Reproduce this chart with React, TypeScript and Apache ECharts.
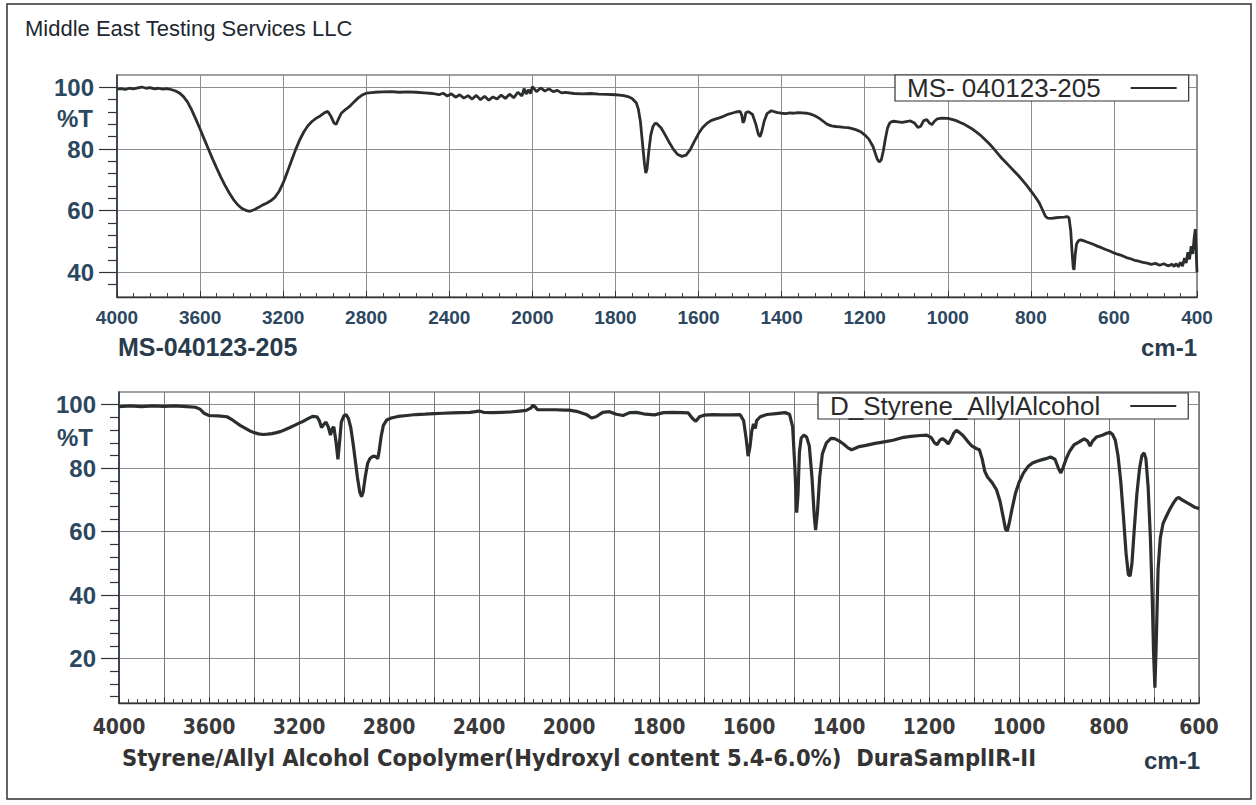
import React, { useEffect, useRef } from "react";
import * as echarts from "echarts";

// ---------- texts ----------
const pageTitle = "Middle East Testing Services LLC";
const topSeriesName = "MS- 040123-205";
const topCaption = "MS-040123-205";
const bottomSeriesName = "D_Styrene_AllylAlcohol";
const bottomCaption = "Styrene/Allyl Alcohol Copolymer(Hydroxyl content 5.4-6.0%)  DuraSamplIR-II";
const unitLabel = "cm-1";
const yName = "%T";

// ---------- tick values ----------
const yMajorTicks = [20, 40, 60, 80, 100];
const topYMinorTicks = [36, 44, 48, 52, 56, 64, 68, 72, 76, 84, 88, 92, 96];
const bottomYMinorTicks = [8, 12, 16, 24, 28, 32, 36, 44, 48, 52, 56, 64, 68, 72, 76, 84, 88, 92, 96];

// ---------- top spectrum (wavenumber cm-1, %T) ----------
const topWavenumbers = [
  4000, 3980, 3960, 3940, 3920, 3900, 3880, 3860, 3840, 3820, 3800, 3780, 3760, 3740, 3720, 3700, 3680, 3660, 3640, 3620,
  3600, 3580, 3560, 3540, 3520, 3500, 3480, 3460, 3440, 3420, 3400, 3380, 3360, 3340, 3320, 3300, 3280, 3260, 3240, 3220,
  3200, 3180, 3160, 3140, 3120, 3100, 3080, 3060, 3040, 3020, 3000, 2985, 2970, 2955, 2945, 2935, 2920, 2900, 2880, 2860,
  2840, 2820, 2800, 2760, 2720, 2680, 2640, 2600, 2560, 2520, 2480, 2450, 2430, 2410, 2390, 2370, 2350, 2330, 2310, 2290,
  2270, 2250, 2230, 2210, 2190, 2170, 2150, 2130, 2110, 2090, 2070, 2050, 2040, 2030, 2020, 2010, 2000, 1990, 1980, 1970,
  1960, 1950, 1940, 1930, 1920, 1900, 1880, 1860, 1840, 1820, 1800, 1790, 1780, 1770, 1760, 1750, 1745, 1740, 1735, 1730,
  1727, 1724, 1720, 1715, 1710, 1705, 1700, 1690, 1680, 1670, 1660, 1650, 1640, 1630, 1620, 1610, 1600, 1590, 1580, 1570,
  1560, 1550, 1540, 1530, 1520, 1510, 1500, 1496, 1493, 1490, 1486, 1480, 1470, 1462, 1456, 1452, 1448, 1442, 1435, 1425,
  1410, 1400, 1390, 1380, 1370, 1360, 1350, 1340, 1330, 1320, 1310, 1300, 1290, 1280, 1270, 1260, 1250, 1240, 1230, 1220,
  1210, 1200, 1190, 1180, 1175, 1170, 1165, 1160, 1155, 1150, 1145, 1140, 1135, 1130, 1120, 1110, 1100, 1090, 1080, 1072,
  1065, 1058, 1050, 1044, 1038, 1032, 1025, 1015, 1000, 990, 980, 970, 960, 950, 940, 930, 920, 910, 900, 890,
  880, 870, 860, 850, 840, 830, 820, 810, 800, 790, 780, 772, 765, 760, 750, 740, 730, 720, 712, 708,
  704, 701, 698, 696, 693, 690, 685, 680, 670, 660, 650, 640, 630, 620, 610, 600, 590, 580, 570, 560,
  550, 540, 530, 520, 510, 500, 490, 480, 470, 460, 455, 450, 445, 440, 435, 430, 426, 422, 418, 414,
  410, 407, 404, 402, 400,
];
const topTransmittance = [
  99.4, 99.6, 99.3, 99.7, 99.5, 99.8, 100.1, 99.7, 99.9, 99.5, 99.7, 99.4, 99.6, 99.3, 98.9, 98.2, 97.0, 95.2, 92.6, 89.6,
  86.5, 83.2, 80.0, 76.8, 73.8, 70.9, 68.2, 65.8, 63.7, 62.0, 60.8, 60.1, 59.8, 60.3, 61.0, 61.8, 62.4, 63.2, 64.3, 66.2,
  69.0, 72.5, 76.2, 79.8, 83.0, 85.6, 87.6, 89.0, 90.0, 90.8, 91.8, 92.2, 90.6, 88.4, 88.0, 89.5, 91.6, 92.8, 93.8, 95.2,
  96.5, 97.5, 98.1, 98.4, 98.5, 98.6, 98.4, 98.5, 98.4, 98.2, 98.0, 97.6, 98.1, 97.2, 97.9, 96.8, 97.6, 96.5, 97.3, 96.2,
  97.4, 96.0, 97.1, 95.8, 96.9, 96.2, 97.5, 96.4, 97.8, 96.6, 98.4, 97.2, 99.6, 97.8, 99.2, 98.0, 100.2, 98.6, 99.8, 98.8,
  99.5, 98.6, 99.0, 98.2, 98.4, 98.0, 97.9, 98.0, 97.8, 97.7, 97.6, 97.5, 97.3, 97.0, 96.4, 95.0, 93.0, 89.0, 82.0, 75.0,
  72.2, 73.5, 79.0, 84.5, 87.2, 88.3, 88.2, 86.8, 84.5, 82.0, 79.8, 78.2, 77.6, 78.0, 79.8, 82.5, 85.0, 87.0, 88.3, 89.2,
  89.7, 90.1, 90.6, 91.2, 91.6, 92.0, 92.2, 91.0, 88.5, 89.2, 91.8, 92.1, 91.2, 88.0, 84.8, 84.0, 85.5, 89.0, 91.5, 92.4,
  91.8, 91.6, 91.5, 91.7, 91.6, 91.8, 91.7, 91.6, 91.3, 90.8, 90.0, 89.0, 88.0, 87.5, 87.3, 87.2, 87.0, 86.9, 86.6, 86.2,
  85.6, 84.6, 83.2, 80.8, 78.8, 76.8, 75.8, 76.5, 79.5, 83.5, 86.8, 88.4, 88.9, 89.0, 88.8, 88.6, 88.9, 89.1, 88.4, 87.0,
  87.4, 89.2, 89.5, 88.4, 87.9, 89.0, 89.8, 90.0, 89.9, 89.6, 89.2, 88.6, 88.0, 87.2, 86.4, 85.4, 84.3, 83.0, 81.7, 80.2,
  78.6, 77.0, 75.6, 74.2, 72.8, 71.4, 69.8, 68.2, 66.4, 64.6, 62.6, 60.3, 58.2, 57.6, 57.5, 57.7, 57.8, 57.9, 58.1, 57.6,
  53.5, 47.0, 41.5, 40.8, 46.0, 49.2, 50.3, 50.5, 50.1, 49.6, 49.1, 48.5, 48.0, 47.4, 46.9, 46.3, 45.8, 45.4, 44.8, 44.4,
  43.9, 43.6, 43.2, 43.0, 42.6, 42.9, 42.3, 42.8, 42.1, 42.6, 41.9, 42.8, 41.8, 43.2, 42.0, 44.6, 43.0, 46.5, 44.2, 48.5,
  46.0, 51.0, 54.0, 47.0, 40.0,
];

// ---------- bottom spectrum (wavenumber cm-1, %T) ----------
const bottomWavenumbers = [
  4000, 3950, 3900, 3850, 3800, 3750, 3700, 3660, 3640, 3620, 3600, 3560, 3520, 3500, 3480, 3460, 3440, 3420, 3400, 3380,
  3360, 3340, 3320, 3300, 3280, 3260, 3240, 3220, 3200, 3180, 3160, 3140, 3120, 3110, 3100, 3090, 3080, 3070, 3060, 3052,
  3045, 3035, 3027, 3020, 3012, 3000, 2990, 2980, 2970, 2960, 2950, 2940, 2930, 2922, 2915, 2905, 2895, 2885, 2875, 2865,
  2855, 2850, 2845, 2835, 2825, 2810, 2790, 2760, 2720, 2680, 2640, 2600, 2560, 2520, 2480, 2440, 2400, 2380, 2340, 2300,
  2260, 2220, 2190, 2170, 2160, 2150, 2140, 2100, 2060, 2020, 2000, 1980, 1960, 1950, 1940, 1925, 1910, 1895, 1880, 1865,
  1850, 1830, 1810, 1790, 1770, 1750, 1735, 1725, 1718, 1710, 1700, 1680, 1660, 1640, 1620, 1612, 1606, 1602, 1598, 1594,
  1590, 1586, 1583, 1575, 1560, 1540, 1520, 1510, 1503, 1498, 1494, 1491, 1488, 1484, 1478, 1472, 1466, 1460, 1455, 1452,
  1448, 1443, 1437, 1428, 1418, 1410, 1400, 1390, 1380, 1372, 1365, 1355, 1340, 1320, 1300, 1280, 1260, 1240, 1220, 1205,
  1195, 1188, 1182, 1176, 1170, 1163, 1157, 1150, 1145, 1139, 1132, 1124, 1115, 1105, 1095, 1088, 1082, 1076, 1070, 1060,
  1050, 1042, 1035, 1030, 1026, 1022, 1015, 1008, 1000, 990, 980, 970, 960, 950, 940, 930, 920, 912, 907, 902,
  895, 888, 878, 865, 855, 848, 842, 836, 828, 815, 805, 798, 792, 786, 780, 774, 768, 762, 757, 753,
  749, 744, 738, 732, 727, 722, 718, 713, 708, 704, 701, 698, 695, 691, 686, 680, 672, 664, 656, 650,
  645, 640, 630, 620, 610, 605, 600,
];
const bottomTransmittance = [
  99.4, 99.6, 99.4, 99.6, 99.5, 99.6, 99.4, 99.2, 98.6, 97.2, 96.6, 96.5, 96.2, 95.4, 94.4, 93.4, 92.6, 91.8, 91.2, 90.8,
  90.6, 90.7, 90.9, 91.2, 91.6, 92.2, 92.8, 93.5, 94.2, 94.8, 95.6, 96.3, 96.2, 95.0, 92.8, 93.8, 94.5, 93.0, 90.4, 92.5,
  93.0, 88.0, 82.8, 88.0, 94.5, 96.6, 96.8, 95.6, 92.8, 88.0, 82.5, 77.0, 72.5, 71.0, 72.5, 77.5, 81.5, 83.0, 83.6, 83.8,
  83.4, 83.0, 84.8, 90.0, 93.5, 95.2, 95.8, 96.3, 96.6, 96.9, 97.0, 97.2, 97.3, 97.4, 97.5, 97.6, 98.0, 97.6, 97.5, 97.6,
  97.7, 98.0, 98.2, 98.9, 99.8, 99.3, 98.4, 98.4, 98.4, 98.3, 98.3, 97.8, 96.8, 95.8, 96.2, 97.6, 97.8, 97.0, 96.6, 97.5,
  97.6, 97.0, 96.8, 97.5, 97.6, 97.5, 97.4, 95.6, 94.8, 96.2, 96.7, 96.9, 96.8, 96.8, 96.9, 95.0, 89.0, 83.8, 86.5, 91.5,
  94.0, 92.5, 95.0, 96.2, 96.9, 97.2, 97.5, 97.0, 93.0, 80.0, 66.0, 72.0, 85.0, 89.5, 90.4, 89.8, 87.0, 77.0, 65.0, 60.5,
  66.0, 77.0, 84.5, 88.0, 89.4, 89.3, 88.6, 87.6, 86.4, 85.8, 86.2, 86.8, 87.2, 87.8, 88.3, 88.8, 89.6, 90.0, 90.3, 90.4,
  89.6, 88.0, 87.4, 88.8, 89.3, 88.6, 87.6, 89.4, 91.0, 91.9, 91.2, 90.2, 88.6, 87.0, 86.2, 85.8, 83.0, 79.0, 77.2, 75.5,
  73.2, 69.5, 64.5, 60.8, 60.2, 62.5, 67.5, 72.0, 75.5, 78.5, 80.5, 81.6, 82.2, 82.6, 83.0, 83.5, 82.8, 79.8, 78.5, 80.2,
  83.0, 85.2, 87.3, 88.4, 89.2, 88.6, 87.0, 88.6, 89.8, 90.4, 91.0, 91.3, 90.6, 88.8, 84.0, 76.0, 65.0, 53.0, 46.5, 46.0,
  50.0, 60.5, 72.0, 80.0, 84.0, 84.8, 83.0, 74.0, 58.0, 40.0, 22.0, 10.8, 25.0, 48.0, 58.0, 62.5, 65.0, 67.3, 69.2, 70.4,
  70.8, 70.2, 69.4, 68.6, 67.7, 67.5, 67.2,
];

// ---------- axis mappings (IR plots expand scale below 2000 cm-1) ----------
const topPos = (w: number) => (w >= 2000 ? (4000 - w) / 400 : 5 + (2000 - w) / 200);
const topWn = (u: number) => (u <= 5 ? 4000 - 400 * u : 2000 - 200 * (u - 5));
const botPos = (w: number) => (w >= 2000 ? (4000 - w) / 200 : 10 + (2000 - w) / 100);
const botWn = (u: number) => (u <= 10 ? 4000 - 200 * u : 2000 - 100 * (u - 10));

const SANS = "'Liberation Sans', Arial, sans-serif";
const NARROW = "'Liberation Sans Narrow', 'DejaVu Sans Condensed', 'Liberation Sans', sans-serif";
const NAVY = "#2c4860";
const INK = "#2b2f2c";
const GRIDC = "#8e8e8e";

function yAxisPair(gridIndex: number, min: number, max: number, minor: number[]) {
  const major = yMajorTicks.filter((v) => v >= min && v <= max);
  return [
    {
      type: "value",
      gridIndex,
      position: "left",
      min,
      max,
      splitNumber: 4,
      axisLine: { show: true, lineStyle: { color: "#2a3a48", width: 1.6 } },
      axisTick: { show: true, customValues: major, length: 18, lineStyle: { color: "#333", width: 1.2 } },
      axisLabel: {
        customValues: major,
        margin: 23,
        formatter: (v: number) => (v % 20 === 0 ? String(v) : ""),
        fontFamily: SANS,
        fontWeight: "bold",
        fontSize: 24,
        color: NAVY,
      },
      splitLine: { show: true, lineStyle: { color: GRIDC, width: 1 } },
    },
    {
      type: "value",
      gridIndex,
      position: "left",
      min,
      max,
      axisLine: { show: false },
      axisTick: { show: true, customValues: minor, length: 9, lineStyle: { color: "#333", width: 1.2 } },
      axisLabel: { show: false },
      splitLine: { show: false },
    },
  ];
}

function legendBox(name: string, left: number, top: number, padV: number) {
  return {
    data: [name],
    left,
    top,
    align: "right",
    icon: "rect",
    itemWidth: 46,
    itemHeight: 2,
    padding: [padV, 12, padV, 12],
    backgroundColor: "#fff",
    borderColor: "#333",
    borderWidth: 1.2,
    borderRadius: 0,
    textStyle: { fontFamily: SANS, fontSize: 26, color: "#2a2a2a", padding: [0, 25, 0, 0] },
  };
}

export default function App() {
  const ref = useRef<HTMLDivElement>(null);

  useEffect(() => {
    if (!ref.current) return;
    const chart = echarts.init(ref.current, undefined, { renderer: "svg" });

    const topData = topWavenumbers.map((w, i) => [topPos(w), topTransmittance[i]]);
    const bottomData = bottomWavenumbers.map((w, i) => [botPos(w), bottomTransmittance[i]]);

    const option: any = {
      animation: false,
      backgroundColor: "#ffffff",
      grid: [
        { left: 117, top: 75, width: 1080, height: 222, show: true, borderColor: "#444", borderWidth: 1.2 },
        { left: 119, top: 392, width: 1080, height: 311, show: true, borderColor: "#444", borderWidth: 1.2 },
      ],
      xAxis: [
        {
          type: "value",
          gridIndex: 0,
          min: 0,
          max: 13,
          interval: 1,
          axisLine: { show: true, onZero: false, lineStyle: { color: "#333", width: 1.4 } },
          axisTick: { show: true, inside: true, length: 6, lineStyle: { color: "#333" } },
          minorTick: { show: true, splitNumber: 5, length: 4, lineStyle: { color: "#444" } },
          axisLabel: {
            margin: 11,
            formatter: (u: number) => String(Math.round(topWn(u))),
            fontFamily: SANS,
            fontWeight: "bold",
            fontSize: 19,
            color: NAVY,
          },
          splitLine: { show: true, lineStyle: { color: GRIDC, width: 1 } },
        },
        {
          type: "value",
          gridIndex: 1,
          min: 0,
          max: 24,
          interval: 1,
          axisLine: { show: true, onZero: false, lineStyle: { color: "#333", width: 1.4 } },
          axisTick: { show: true, inside: true, length: 6, lineStyle: { color: "#333" } },
          minorTick: { show: true, splitNumber: 5, length: 4, lineStyle: { color: "#444" } },
          axisLabel: {
            margin: 13,
            formatter: (u: number) => (Math.round(u) % 2 === 0 ? String(Math.round(botWn(u))) : ""),
            fontFamily: NARROW,
            fontWeight: "bold",
            fontSize: 21,
            color: "#3a3a3a",
          },
          splitLine: { show: true, lineStyle: { color: "#7a7a7a", width: 1 } },
        },
      ],
      yAxis: [...yAxisPair(0, 32, 104, topYMinorTicks), ...yAxisPair(1, 6, 104, bottomYMinorTicks)],
      legend: [legendBox(topSeriesName, 895, 75, 0), legendBox(bottomSeriesName, 818, 393, 0)],
      series: [
        {
          name: topSeriesName,
          type: "line",
          xAxisIndex: 0,
          yAxisIndex: 0,
          data: topData,
          symbol: "none",
          showSymbol: false,
          lineStyle: { color: INK, width: 2.8 },
          itemStyle: { color: INK },
          z: 5,
        },
        {
          name: bottomSeriesName,
          type: "line",
          xAxisIndex: 1,
          yAxisIndex: 2,
          data: bottomData,
          symbol: "none",
          showSymbol: false,
          lineStyle: { color: INK, width: 3.2 },
          itemStyle: { color: INK },
          z: 5,
        },
      ],
      graphic: [
        {
          type: "rect",
          shape: { x: 7, y: 4, width: 1244, height: 795 },
          style: { fill: "none", stroke: "#333", lineWidth: 1.5 },
          silent: true,
          z: -10,
        },
        {
          type: "text",
          x: 25,
          y: 28,
          style: { text: pageTitle, fontFamily: SANS, fontSize: 22, fill: "#1e2830", align: "left", verticalAlign: "middle" },
        },
        {
          type: "text",
          x: 93,
          y: 118,
          style: { text: yName, fontFamily: SANS, fontSize: 24, fontWeight: "bold", fill: NAVY, align: "right", verticalAlign: "middle" },
        },
        {
          type: "text",
          x: 93,
          y: 437,
          style: { text: yName, fontFamily: SANS, fontSize: 24, fontWeight: "bold", fill: NAVY, align: "right", verticalAlign: "middle" },
        },
        {
          type: "text",
          x: 118,
          y: 347,
          style: { text: topCaption, fontFamily: SANS, fontSize: 25, fontWeight: "bold", fill: "#2a3c4c", align: "left", verticalAlign: "middle" },
        },
        {
          type: "text",
          x: 1197,
          y: 347,
          style: { text: unitLabel, fontFamily: SANS, fontSize: 24, fontWeight: "bold", fill: "#2a3c4c", align: "right", verticalAlign: "middle" },
        },
        {
          type: "text",
          x: 122,
          y: 758,
          style: { text: bottomCaption, fontFamily: NARROW, fontSize: 23.5, fontWeight: "bold", fill: "#333", align: "left", verticalAlign: "middle" },
        },
        {
          type: "text",
          x: 1200,
          y: 760,
          style: { text: unitLabel, fontFamily: SANS, fontSize: 24, fontWeight: "bold", fill: "#2a3c4c", align: "right", verticalAlign: "middle" },
        },
      ],
    };

    chart.setOption(option);
    return () => chart.dispose();
  }, []);

  return <div ref={ref} style={{ position: "fixed", left: 0, top: 0, width: 1256, height: 805 }} />;
}
